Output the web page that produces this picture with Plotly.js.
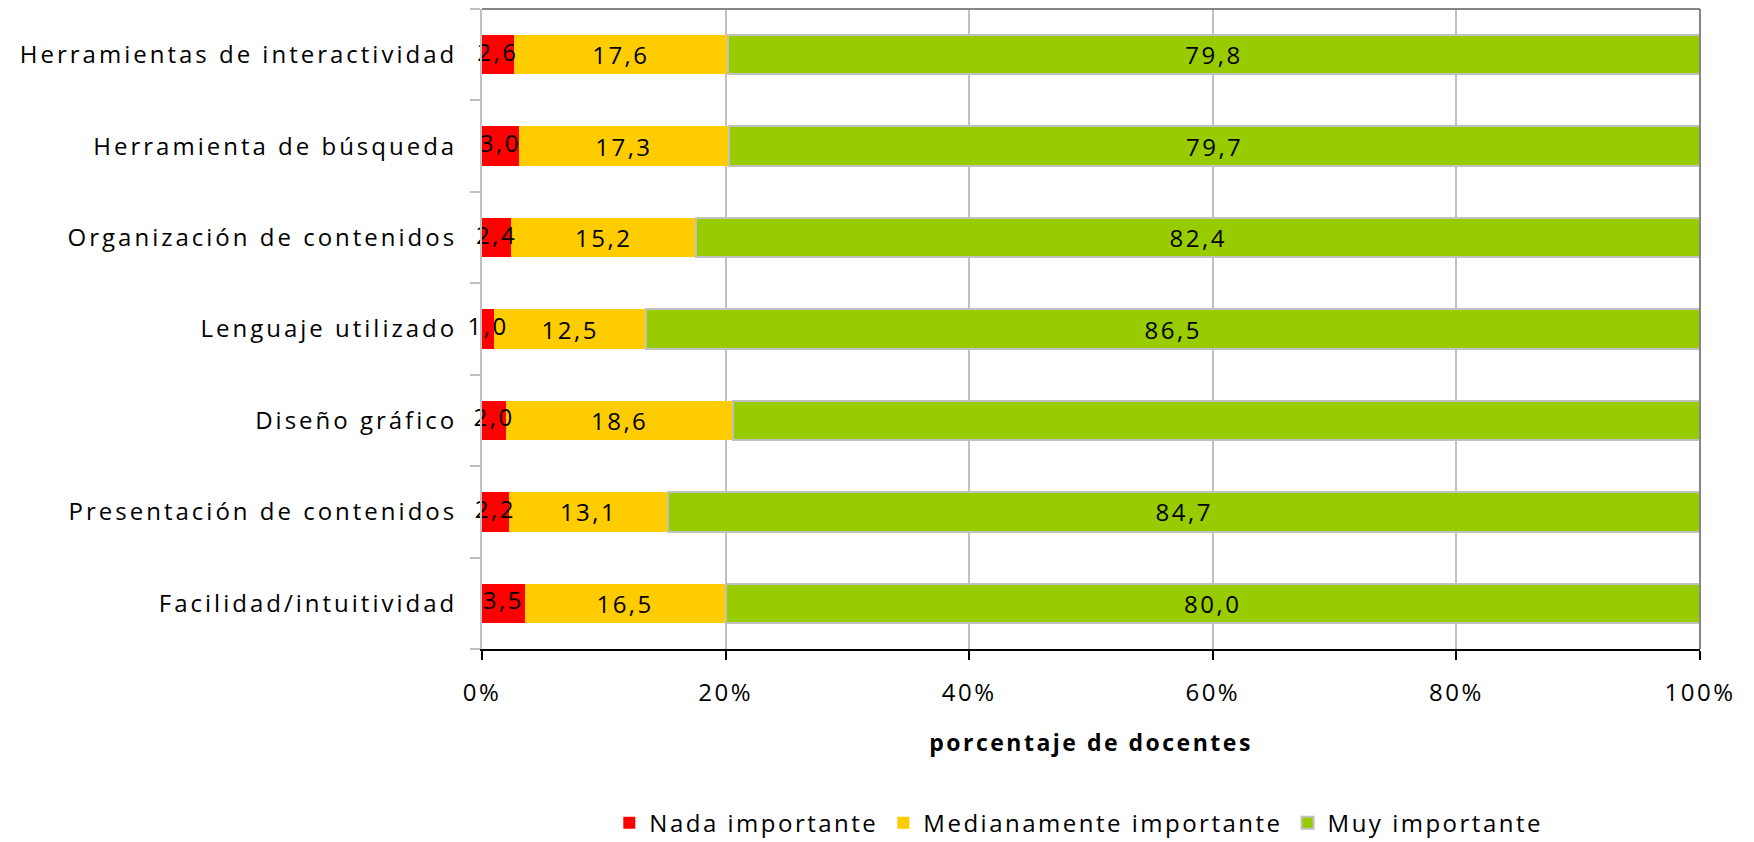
<!DOCTYPE html>
<html>
<head>
<meta charset="utf-8">
<script src="https://cdn.plot.ly/plotly-3.0.1.min.js"></script>
<style>
html,body{margin:0;padding:0;background:#fff;}
#chart{width:1754px;height:842px;}
svg text{letter-spacing:2.5px;}
#chart .ytick text{letter-spacing:3px;}
</style>
</head>
<body>
<div id="chart"></div>
<script>
const categories = [
  "Facilidad/intuitividad",
  "Presentación de contenidos",
  "Diseño gráfico",
  "Lenguaje utilizado",
  "Organización de contenidos",
  "Herramienta de búsqueda",
  "Herramientas de interactividad"
];
const nadaImportante = [3.5, 2.2, 2.0, 1.0, 2.4, 3.0, 2.6];
const medianamenteImportante = [16.5, 13.1, 18.6, 12.5, 15.2, 17.3, 17.6];
const muyImportante = [80.0, 84.7, 79.5, 86.5, 82.4, 79.7, 79.8];
const xTickVals = [0, 20, 40, 60, 80, 100];
const xTickText = ["0%", "20%", "40%", "60%", "80%", "100%"];

const FONT = "Open Sans, Noto Sans, sans-serif";
const FS = 24;
const fmt = v => v.toFixed(1).replace('.', ',');

function trace(name, vals, color, line, withText) {
  return {
    type: 'bar', orientation: 'h', name: name,
    y: categories, x: vals,
    text: withText ? vals.map(fmt) : undefined,
    textposition: withText ? 'inside' : 'none', insidetextanchor: 'middle',
    textangle: 0,
    constraintext: 'none',
    textfont: {family: FONT, size: FS, color: '#000'},
    insidetextfont: {family: FONT, size: FS, color: '#000'},
    hoverinfo: 'x+y',
    marker: {color: color, line: line}
  };
}

const data = [
  trace("Nada importante", nadaImportante, "#ff0000", {width: 0}, false),
  trace("Medianamente importante", medianamenteImportante, "#ffcc00", {width: 0}, true),
  trace("Muy importante", muyImportante, "#99cc00", {width: 2, color: "#c0c0c0"}, true),
  {
    type: 'scatter', mode: 'text', showlegend: false, hoverinfo: 'skip',
    y: categories, x: nadaImportante.map(v => v / 2),
    text: nadaImportante.map(fmt), textposition: 'middle center',
    textfont: {family: FONT, size: FS, color: '#000'},
    cliponaxis: false
  }
];

const layout = {
  width: 1754, height: 842,
  margin: {l: 482, r: 54, t: 9, b: 193, autoexpand: false},
  barmode: 'stack',
  bargap: 0.57,
  paper_bgcolor: '#fff', plot_bgcolor: '#fff',
  font: {family: FONT, size: FS, color: '#000'},
  showlegend: true,
  legend: {
    orientation: 'h', x: 0.49, xanchor: 'center', y: -0.272, yanchor: 'middle',
    font: {family: FONT, size: FS, color: '#000'},
    traceorder: 'normal', itemwidth: 30
  },
  xaxis: {
    range: [0, 100], tickvals: xTickVals, ticktext: xTickText,
    showgrid: true, gridcolor: '#c0c0c0', gridwidth: 2,
    showline: true, linecolor: '#000', linewidth: 2,
    ticks: 'outside', ticklen: 9, tickwidth: 2, tickcolor: '#000',
    ticklabelstandoff: 12,
    zeroline: false, fixedrange: true, automargin: false,
    tickfont: {family: FONT, size: FS, color: '#000'},
    title: {text: "<b>porcentaje de docentes</b>", font: {family: FONT, size: 23, color: '#000'}, standoff: 28}
  },
  yaxis: {
    type: 'category', categoryorder: 'array', categoryarray: categories,
    showline: true, linecolor: '#c0c0c0', linewidth: 2,
    ticks: 'outside', tickson: 'boundaries', ticklen: 10, tickwidth: 2, tickcolor: '#c0c0c0',
    showgrid: false, ticklabelstandoff: 18, automargin: false,
    tickfont: {family: FONT, size: FS, color: '#000'},
    fixedrange: true
  },
  shapes: [
    {type: 'line', xref: 'paper', yref: 'paper', x0: 0, x1: 1, y0: 1, y1: 1, line: {color: '#868686', width: 2}},
    {type: 'line', xref: 'paper', yref: 'paper', x0: 1, x1: 1, y0: 0, y1: 1, line: {color: '#868686', width: 2}}
  ]
};

Plotly.newPlot('chart', data, layout, {displayModeBar: false, staticPlot: true});
</script>
</body>
</html>
